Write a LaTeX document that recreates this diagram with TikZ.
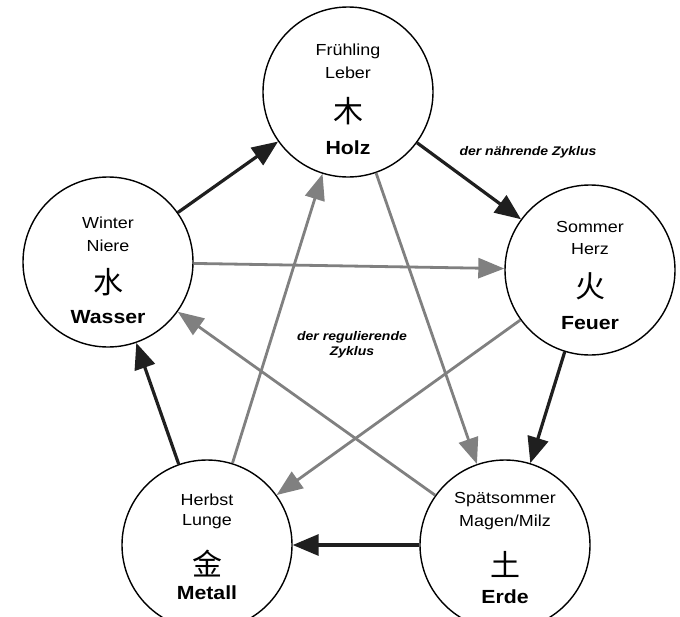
\documentclass[tikz,border=0pt]{standalone}
\usepackage{fontspec}
\setmainfont{Liberation Sans}[FakeStretch=1.12]
\newfontfamily\cjk{Noto Sans CJK SC}
\usetikzlibrary{arrows.meta,calc}

\tikzset{
  kreis/.style={circle,draw,line width=1.4pt,fill=white,minimum size=170pt,inner sep=0pt},
  zeile/.style={inner sep=0pt,font=\fontsize{16}{16}\selectfont},
  zeichen/.style={inner sep=0pt,font=\fontsize{30}{30}\selectfont\cjk},
  wandlung/.style={inner sep=0pt,font=\fontsize{19}{19}\selectfont\bfseries},
  zyklus/.style={inner sep=0pt,align=center,font=\fontsize{12.5}{15}\selectfont\bfseries\itshape},
  naehrend/.style={draw=black!88,line width=3.2pt,-{Triangle[length=26pt,width=21pt]}},
  regulierend/.style={draw=black!50,line width=2.8pt,-{Triangle[length=26pt,width=20pt]}}
}

\begin{document}
\begin{tikzpicture}[x=1pt,y=-1pt]
    \useasboundingbox (0,0) rectangle (680,616);

    % Die fuenf Wandlungsphasen
    \node[kreis] (holz)   at (348,92)  {};
    \node[kreis] (feuer)  at (590,270) {};
    \node[kreis] (erde)   at (505,545) {};
    \node[kreis] (metall) at (207,545) {};
    \node[kreis] (wasser) at (108,262) {};

    % Holz
    \node[zeile]    (holz-zeit)   at ($(holz)+(0,-41)$) {Frühling};
    \node[zeile]    (holz-organ)  at ($(holz)+(0,-19)$) {Leber};
    \node[zeichen]  (holz-z)      at ($(holz)+(0,19)$)  {木};
    \node[wandlung] (holz-name)   at ($(holz)+(0,56)$)  {Holz};

    % Feuer
    \node[zeile]    (feuer-zeit)  at ($(feuer)+(0,-43)$) {Sommer};
    \node[zeile]    (feuer-organ) at ($(feuer)+(0,-21)$) {Herz};
    \node[zeichen]  (feuer-z)     at ($(feuer)+(0,16)$)  {火};
    \node[wandlung] (feuer-name)  at ($(feuer)+(0,53)$)  {Feuer};

    % Erde
    \node[zeile]    (erde-zeit)   at ($(erde)+(0,-45)$) {Spätsommer};
    \node[zeile]    (erde-organ)  at ($(erde)+(0,-23)$) {Magen/Milz};
    \node[zeichen]  (erde-z)      at ($(erde)+(0,19)$)  {土};
    \node[wandlung] (erde-name)   at ($(erde)+(0,52)$)  {Erde};

    % Metall
    \node[zeile]    (metall-zeit)  at ($(metall)+(0,-45)$) {Herbst};
    \node[zeile]    (metall-organ) at ($(metall)+(0,-23)$) {Lunge};
    \node[zeichen]  (metall-z)     at ($(metall)+(0,19)$)  {金};
    \node[wandlung] (metall-name)  at ($(metall)+(0,48)$)  {Metall};

    % Wasser
    \node[zeile]    (wasser-zeit)  at ($(wasser)+(0,-39)$) {Winter};
    \node[zeile]    (wasser-organ) at ($(wasser)+(0,-16)$) {Niere};
    \node[zeichen]  (wasser-z)     at ($(wasser)+(0,20)$)  {水};
    \node[wandlung] (wasser-name)  at ($(wasser)+(0,55)$)  {Wasser};

    % regulierender Zyklus (grau)
    \draw[regulierend] (holz) -- (erde);
    \draw[regulierend] (erde) -- (wasser);
    \draw[regulierend] (wasser) -- (feuer);
    \draw[regulierend] (feuer) -- (metall);
    \draw[regulierend] (metall) -- (holz);

    % naehrender Zyklus (dunkel)
    \draw[naehrend] (wasser) -- (holz);
    \draw[naehrend] (holz) -- (feuer);
    \draw[naehrend] (feuer) -- (erde);
    \draw[naehrend] (erde) -- (metall);
    \draw[naehrend] (metall) -- (wasser);

    % Beschriftungen
    \node[zyklus] (naehr-text) at (528,152) {der nährende Zyklus};
    \node[zyklus] (regul-text) at (352,345) {der regulierende\\Zyklus};
\end{tikzpicture}
\end{document}
